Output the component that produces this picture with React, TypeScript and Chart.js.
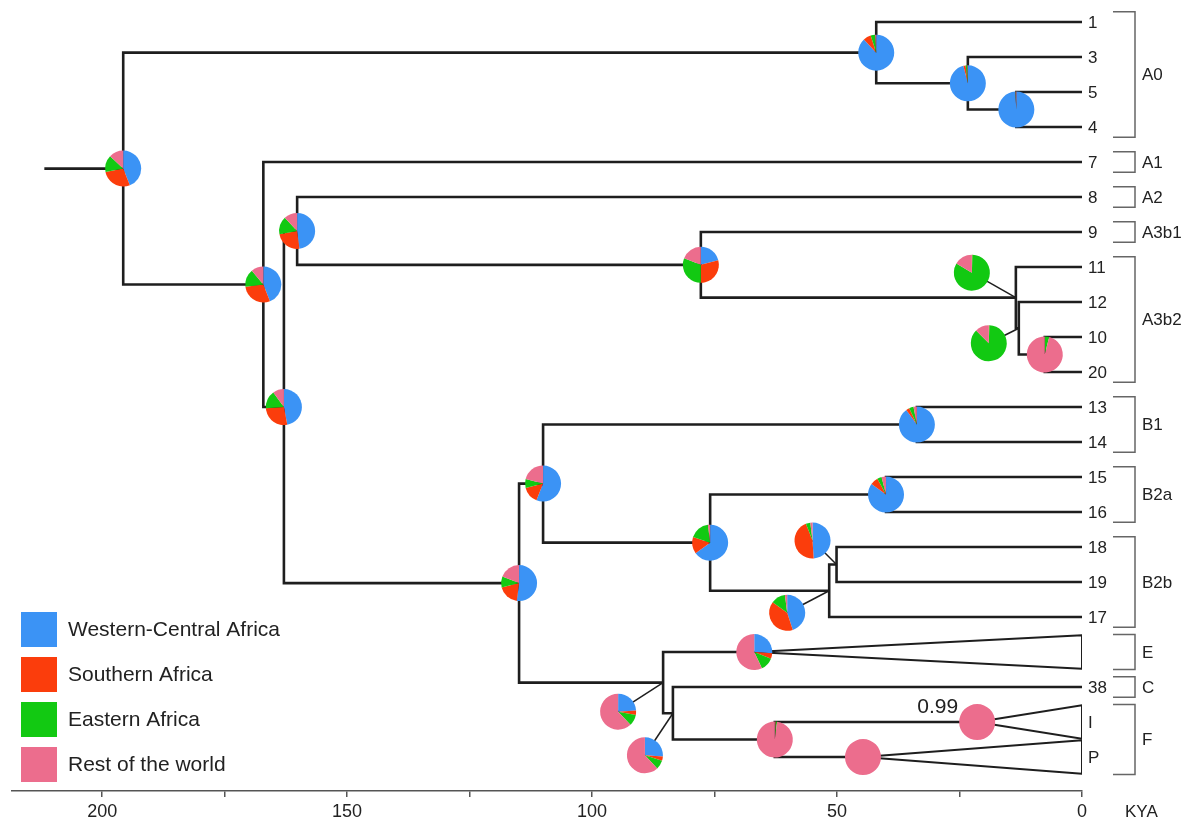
import { useEffect, useRef } from 'react';
import { Chart, registerables } from 'chart.js';
Chart.register(...registerables);

// ---------- data ----------
const tipIds = ['1', '3', '5', '4', '7', '8', '9', '11', '12', '10', '20', '13', '14', '15', '16', '18', '19', '17', 'E', '38', 'I', 'P'];
const tipLabels = ['1', '3', '5', '4', '7', '8', '9', '11', '12', '10', '20', '13', '14', '15', '16', '18', '19', '17', '', '38', 'I', 'P'];
const collapsedIds = ['E', 'I', 'P'];
const collapsedAges = [66.9, 21.4, 44.7];

const nodeIds = ['root', 'A0', 'A0b', 'A0c', 'N1', 'N2', 'A2n', 'A3', 'A3b2', 'A3b2b', 'A3b2c', 'BEF', 'B', 'B1', 'B2', 'B2a', 'B2b', 'B2bx', 'EF', 'CF', 'F'];
const nodeAges = [195.7, 42.0, 23.3, 13.4, 167.1, 162.9, 160.2, 77.8, 13.5, 12.9, 7.6, 114.9, 110.0, 33.7, 75.9, 40.0, 51.6, 50.1, 85.5, 83.5, 62.7];
const nodeKids = [
  ['A0', 'N1'], ['1', 'A0b'], ['3', 'A0c'], ['5', '4'], ['7', 'N2'], ['A2n', 'BEF'], ['8', 'A3'], ['9', 'A3b2'],
  ['11', 'A3b2b'], ['12', 'A3b2c'], ['10', '20'], ['B', 'EF'], ['B1', 'B2'], ['13', '14'], ['B2a', 'B2b'],
  ['15', '16'], ['B2bx', '17'], ['18', '19'], ['E', 'CF'], ['38', 'F'], ['I', 'P'],
];
const rootStemAge = 211.8;

const regionNames = ['Western-Central Africa', 'Southern Africa', 'Eastern Africa', 'Rest of the world'];
const pieIds = ['root', 'A0', 'A0b', 'A0c', 'N1', 'N2', 'A2n', 'A3', 'A3b2', 'A3b2b', 'A3b2c', 'BEF', 'B', 'B1', 'B2', 'B2a', 'B2b', 'B2bx', 'EF', 'CF', 'F', 'E', 'I', 'P'];
const westernCentral = [0.44, 0.88, 0.96, 0.99, 0.44, 0.47, 0.48, 0.21, 0, 0, 0, 0.52, 0.56, 0.90, 0.65, 0.85, 0.45, 0.49, 0.24, 0.26, 0.005, 0.26, 0, 0];
const southern = [0.28, 0.07, 0.02, 0.003, 0.29, 0.27, 0.24, 0.29, 0.005, 0.005, 0, 0.19, 0.15, 0.03, 0.15, 0.07, 0.40, 0.45, 0.04, 0.04, 0.005, 0.05, 0, 0];
const eastern = [0.15, 0.04, 0.015, 0.002, 0.16, 0.16, 0.16, 0.31, 0.83, 0.87, 0.04, 0.10, 0.08, 0.04, 0.18, 0.04, 0.13, 0.04, 0.10, 0.08, 0.01, 0.12, 0, 0];
const restOfWorld = [0.13, 0.01, 0.005, 0.005, 0.11, 0.10, 0.12, 0.19, 0.165, 0.125, 0.96, 0.19, 0.21, 0.03, 0.02, 0.04, 0.02, 0.02, 0.62, 0.62, 0.98, 0.57, 1, 1];

const cladeNames = ['A0', 'A1', 'A2', 'A3b1', 'A3b2', 'B1', 'B2a', 'B2b', 'E', 'C', 'F'];
const cladeFirstTip = ['1', '7', '8', '9', '11', '13', '15', '18', 'E', '38', 'I'];
const cladeLastTip = ['4', '7', '8', '9', '20', '14', '16', '17', 'E', '38', 'P'];

const supportNode = 'I';
const supportLabel = '0.99';
const axisTicks = [0, 25, 50, 75, 100, 125, 150, 175, 200];
const axisUnit = 'KYA';

// ---------- styles ----------
const COLORS = ['#3b93f5', '#fb3d0c', '#12c912', '#ec6d8d'];
const LINE = '#1e1e1e';
const FONT = '"Liberation Sans", Arial, Helvetica, sans-serif';
const PIE_R = 18;
// pixel offsets of displaced pies (drawn with a leader line)
const pieOffsets: Record<string, [number, number]> = {
  A3b2: [-44, -25], A3b2b: [-30, 15], B2bx: [-24, -24], B2b: [-42, 22], EF: [-45, 29], CF: [-28, 42],
};

type Pos = { age: number; y: number };
function layoutTree(): Record<string, Pos> {
  const pos: Record<string, Pos> = {};
  tipIds.forEach((id, i) => {
    const ci = collapsedIds.indexOf(id);
    pos[id] = { age: ci >= 0 ? collapsedAges[ci] : 0, y: i };
  });
  const resolve = (id: string): Pos => {
    if (pos[id]) return pos[id];
    const k = nodeIds.indexOf(id);
    const a = resolve(nodeKids[k][0]);
    const b = resolve(nodeKids[k][1]);
    pos[id] = { age: nodeAges[k], y: (a.y + b.y) / 2 };
    return pos[id];
  };
  nodeIds.forEach(resolve);
  return pos;
}

export default function App() {
  const ref = useRef<HTMLCanvasElement | null>(null);
  useEffect(() => {
    if (!ref.current) return;
    const pos = layoutTree();
    const lineDs = (pts: { x: number; y: number }[], w = 2.6) => ({
      data: pts, showLine: true, borderColor: LINE, borderWidth: w, pointRadius: 0, fill: false, tension: 0,
    });
    const datasets: any[] = [];
    const r = pos['root'];
    datasets.push(lineDs([{ x: rootStemAge, y: r.y }, { x: r.age, y: r.y }]));
    nodeIds.forEach((id, k) => {
      const p = pos[id];
      const a = pos[nodeKids[k][0]];
      const b = pos[nodeKids[k][1]];
      datasets.push(lineDs([
        { x: a.age, y: a.y }, { x: p.age, y: a.y }, { x: p.age, y: b.y }, { x: b.age, y: b.y },
      ]));
    });
    collapsedIds.forEach((id) => {
      const p = pos[id];
      datasets.push(lineDs([
        { x: p.age, y: p.y }, { x: 0, y: p.y - 0.48 }, { x: 0, y: p.y + 0.48 }, { x: p.age, y: p.y },
      ], 2));
    });

    const treePlugin = {
      id: 'treeDecor',
      afterDatasetsDraw(chart: any) {
        const ctx = chart.ctx;
        const xs = chart.scales.x;
        const ys = chart.scales.y;
        ctx.save();
        pieIds.forEach((id, i) => {
          const p = pos[id];
          const nx = xs.getPixelForValue(p.age);
          const ny = ys.getPixelForValue(p.y);
          const off = pieOffsets[id] || [0, 0];
          const cx = nx + off[0];
          const cy = ny + off[1];
          if (off[0] !== 0 || off[1] !== 0) {
            ctx.beginPath();
            ctx.moveTo(nx, ny);
            ctx.lineTo(cx, cy);
            ctx.strokeStyle = LINE;
            ctx.lineWidth = 1.5;
            ctx.stroke();
          }
          const vals = [westernCentral[i], southern[i], eastern[i], restOfWorld[i]];
          const tot = vals.reduce((s, v) => s + v, 0);
          let ang = -Math.PI / 2;
          vals.forEach((v, j) => {
            if (v <= 0) return;
            const a2 = ang + (v / tot) * Math.PI * 2;
            ctx.beginPath();
            ctx.moveTo(cx, cy);
            ctx.arc(cx, cy, PIE_R, ang, a2);
            ctx.closePath();
            ctx.fillStyle = COLORS[j];
            ctx.fill();
            ang = a2;
          });
        });
        ctx.restore();
      },
      afterDraw(chart: any) {
        const ctx = chart.ctx;
        const xs = chart.scales.x;
        const ys = chart.scales.y;
        const area = chart.chartArea;
        ctx.save();
        // tip labels
        ctx.fillStyle = '#222';
        ctx.textBaseline = 'middle';
        ctx.textAlign = 'left';
        ctx.font = `17px ${FONT}`;
        tipLabels.forEach((t, i) => {
          if (t) ctx.fillText(t, area.right + 6, ys.getPixelForValue(i) + 1);
        });
        // clade brackets
        const x1 = area.right + 31;
        const x2 = area.right + 53;
        cladeNames.forEach((name, i) => {
          const f = tipIds.indexOf(cladeFirstTip[i]);
          const l = tipIds.indexOf(cladeLastTip[i]);
          const padF = collapsedIds.includes(cladeFirstTip[i]) ? 0.5 : 0.29;
          const padL = collapsedIds.includes(cladeLastTip[i]) ? 0.5 : 0.29;
          const top = ys.getPixelForValue(f - padF);
          const bot = ys.getPixelForValue(l + padL);
          ctx.beginPath();
          ctx.moveTo(x1, top);
          ctx.lineTo(x2, top);
          ctx.lineTo(x2, bot);
          ctx.lineTo(x1, bot);
          ctx.strokeStyle = '#666';
          ctx.lineWidth = 1.5;
          ctx.stroke();
          ctx.fillStyle = '#222';
          ctx.fillText(name, x2 + 7, (top + bot) / 2 + 1);
        });
        // support value
        const sp = pos[supportNode];
        ctx.font = `21px ${FONT}`;
        ctx.textAlign = 'right';
        ctx.fillText(supportLabel, xs.getPixelForValue(sp.age) - 19, ys.getPixelForValue(sp.y) - 15);
        // axis unit
        ctx.font = `17px ${FONT}`;
        ctx.textAlign = 'left';
        ctx.fillText(axisUnit, area.right + 43, area.bottom + 21);
        // legend
        ctx.font = `21px ${FONT}`;
        regionNames.forEach((name, j) => {
          const top = area.bottom - 179 + j * 45;
          ctx.fillStyle = COLORS[j];
          ctx.fillRect(area.left + 9, top, 36, 35);
          ctx.fillStyle = '#222';
          ctx.fillText(name, area.left + 56, top + 18);
        });
        ctx.restore();
      },
    };

    const chart = new Chart(ref.current, {
      type: 'scatter',
      data: { datasets },
      options: {
        responsive: false,
        animation: false,
        events: [],
        layout: { padding: { left: 12, right: 103, top: 0, bottom: -6 } },
        plugins: { legend: { display: false }, tooltip: { enabled: false } },
        scales: {
          x: {
            type: 'linear',
            reverse: true,
            min: 0,
            max: 218.4,
            afterBuildTicks: (axis: any) => {
              axis.ticks = axisTicks.map((v) => ({ value: v }));
            },
            border: { display: true, color: '#555', width: 1.5 },
            grid: { display: true, drawOnChartArea: false, drawTicks: true, tickLength: 6, color: '#555', lineWidth: 1.5 },
            ticks: {
              autoSkip: false,
              maxRotation: 0,
              padding: 6,
              color: '#222',
              font: { size: 18, family: FONT, lineHeight: 1 },
              callback: (v: any) => (Number(v) % 50 === 0 ? String(v) : ''),
            },
          },
          y: { type: 'linear', display: false, reverse: true, min: -0.629, max: 21.971 },
        },
      },
      plugins: [treePlugin],
    } as any);
    return () => chart.destroy();
  }, []);
  return (
    <div style={{ position: 'absolute', left: 0, top: 0, width: 1185, height: 821, background: '#fff' }}>
      <canvas ref={ref} width={1185} height={821} style={{ display: 'block' }} />
    </div>
  );
}
